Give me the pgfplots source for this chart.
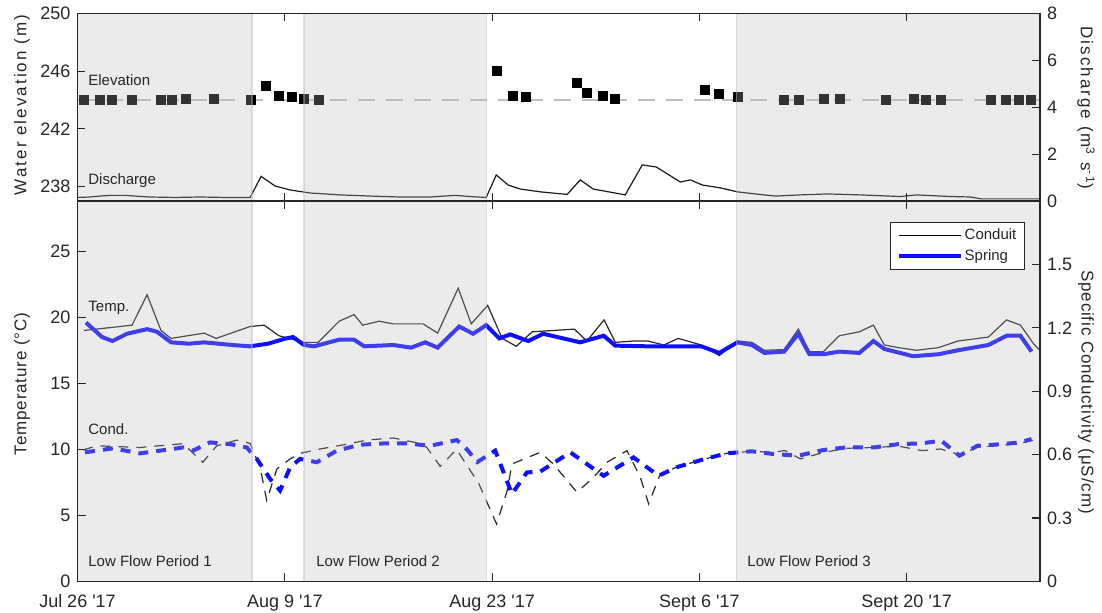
\documentclass[border=0pt]{standalone}
\usepackage{pgfplots}
\usepackage{pgfplotstable}
\pgfplotsset{compat=1.18}
\usepackage{fontspec}
\setmainfont{Liberation Sans}
\newfontfamily\spacedA[LetterSpace=12]{Liberation Sans}
\newfontfamily\spacedB[LetterSpace=5]{Liberation Sans}

\definecolor{axgray}{HTML}{262626}
\definecolor{shadec}{gray}{0.72}
\definecolor{refgray}{HTML}{BEBEBE}
\definecolor{springblue}{RGB}{15,15,255}

% page coordinates: 1 unit = 0.5pt, measured from the top-left corner
\newcommand{\px}[2]{({(#1)*0.5pt},{(613-(#2))*0.5pt})}

% x = days since Jul 26 2017
\pgfplotstableread{
d elev
0.4 244.0
1.5 244.0
2.3 244.0
3.7 244.0
5.6 244.0
6.4 244.0
7.3 244.1
9.2 244.1
11.7 244.0
12.7 245.0
13.6 244.3
14.5 244.2
15.3 244.1
16.3 244.0
28.3 246.0
29.4 244.3
30.3 244.2
33.7 245.2
34.4 244.5
35.5 244.3
36.3 244.1
42.4 244.7
43.3 244.4
44.6 244.2
47.7 244.0
48.7 244.0
50.4 244.1
51.5 244.1
54.6 244.0
56.5 244.1
57.3 244.0
58.3 244.0
61.7 244.0
62.7 244.0
63.6 244.0
64.4 244.0
}\elevtab

\pgfplotstableread{
d Q
0 0.15
0.84 0.17
1.52 0.21
2.2 0.24
3.21 0.24
3.89 0.21
4.9 0.17
6.59 0.15
8.28 0.17
9.97 0.15
11.66 0.15
12.4 1.05
13.34 0.64
14.36 0.47
15.71 0.34
17.74 0.26
19.76 0.21
21.79 0.17
23.82 0.17
25.51 0.24
26.52 0.19
27.6 0.15
28.28 1.11
29.09 0.68
29.9 0.51
31.25 0.39
33.07 0.28
33.95 0.90
34.83 0.51
36.99 0.26
38.14 1.54
39.09 1.45
40.71 0.81
41.39 0.90
42.2 0.68
43.41 0.56
44.56 0.39
45.78 0.30
47.13 0.21
48.82 0.26
50.64 0.30
52.87 0.26
55.57 0.19
56.66 0.26
58.95 0.19
60.3 0.17
61.05 0.09
65 0.09
}\dischtab

\pgfplotstableread{
d T
0.44 19.0
3.68 19.4
4.7 21.7
5.64 19.0
6.32 18.4
8.55 18.8
9.36 18.4
11.66 19.3
12.6 19.4
13.61 18.6
15.3 18.1
16.25 18.1
17.67 19.7
18.68 20.2
19.26 19.4
20.37 19.7
21.32 19.5
23.34 19.5
24.32 18.8
25.71 22.2
26.59 19.5
27.7 20.9
28.68 18.4
29.63 17.8
30.71 18.9
33.55 19.1
34.4 18.2
35.56 19.8
36.32 18.1
37.53 18.2
38.51 18.2
39.6 17.9
40.57 18.4
42.13 17.9
43.34 17.1
44.56 18.2
45.54 18.1
46.39 17.5
47.72 17.55
48.68 19.1
49.43 17.4
50.37 17.4
51.45 18.6
52.8 18.9
53.75 19.4
54.49 17.9
55.44 17.7
56.66 17.5
58.14 17.7
59.46 18.2
61.52 18.5
62.74 19.8
63.68 19.4
64.56 18.0
65.0 17.5
}\tempconduit

\pgfplotstableread{
d T
0.57 19.6
1.66 18.5
2.36 18.2
3.34 18.75
4.7 19.1
5.37 18.9
6.32 18.1
7.53 18.0
8.55 18.1
10.44 17.9
11.66 17.8
12.87 18.0
14.09 18.4
14.56 18.5
15.3 17.9
15.98 17.8
17.67 18.3
18.68 18.3
19.36 17.8
21.32 17.9
22.53 17.7
23.48 18.1
24.32 17.7
25.78 19.3
26.72 18.75
27.6 19.4
28.48 18.4
29.22 18.7
30.44 18.2
31.45 18.75
33.95 18.1
35.54 18.6
36.32 17.85
38.51 17.8
42.13 17.8
43.34 17.3
44.56 18.1
45.54 17.9
46.39 17.3
47.72 17.4
48.68 18.75
49.43 17.2
50.37 17.2
51.45 17.4
52.8 17.3
53.75 18.2
54.49 17.6
56.43 17.05
58.14 17.2
59.46 17.5
61.52 17.9
62.74 18.6
63.68 18.6
64.43 17.4
}\tempspring

\pgfplotstableread{
d C
0.37 0.622
1.3 0.642
4.22 0.634
7.13 0.652
8.46 0.564
9.41 0.642
10.76 0.669
11.66 0.653
12.33 0.54
12.78 0.383
13.46 0.532
14.36 0.58
15.03 0.606
16.39 0.627
17.94 0.646
19.54 0.669
21.32 0.679
23.14 0.653
23.59 0.634
24.49 0.545
25.6 0.625
27.1 0.463
28.3 0.272
29.02 0.43
29.34 0.556
31.25 0.611
32.13 0.556
33.73 0.422
34.85 0.493
35.76 0.564
37.11 0.619
38.01 0.493
38.57 0.367
39.36 0.509
40.44 0.54
42.13 0.575
43.82 0.606
45.54 0.616
46.99 0.61
47.74 0.62
48.82 0.58
50.37 0.61
51.86 0.63
53.78 0.634
55.47 0.64
57.04 0.619
58.28 0.627
59.56 0.60
60.78 0.635
62.47 0.645
63.68 0.655
65.0 0.675
}\condconduit

\pgfplotstableread{
d C
0.51 0.611
2.4 0.63
4.22 0.606
5.57 0.619
7.13 0.634
7.8 0.619
8.95 0.658
10.3 0.65
11.43 0.634
12.11 0.58
13.01 0.485
13.68 0.43
14.36 0.54
15.03 0.58
16.16 0.564
17.51 0.619
19.09 0.647
20.66 0.653
22.24 0.653
23.82 0.642
25.62 0.669
26.3 0.625
27.0 0.565
28.21 0.619
29.34 0.414
30.35 0.516
31.25 0.52
33.28 0.611
35.53 0.5
37.55 0.587
39.24 0.5
40.44 0.54
42.13 0.575
43.82 0.606
45.54 0.616
46.99 0.603
48.68 0.595
50.37 0.622
51.86 0.634
53.78 0.634
55.47 0.65
56.93 0.653
58.34 0.666
59.56 0.595
60.78 0.642
62.47 0.65
63.68 0.658
64.43 0.674
}\condspring

\pgfplotsset{
  panel/.style={scale only axis, width=481.25pt, xmin=0, xmax=65, anchor=south west},
  toppanel/.style={panel, height=93.75pt, at={(38.75pt,206pt)}},
  botpanel/.style={panel, height=190.25pt, at={(38.75pt,15.75pt)}},
  frame/.style={
    axis line style={axgray, line width=0.75pt},
    tick style={axgray, line width=0.6pt},
    tick align=inside, major tick length=4pt,
    tick label style={font=\fontsize{9}{10}\selectfont, text=axgray},
    /pgf/number format/assume math mode=true,
    xtick={0,14,28,42,56},
    minor tick num=0,
  },
}
\tikzset{
  lowflow/.style={fill=shadec, opacity=0.28},
  lowedge/.style={draw=shadec, opacity=0.45, line width=0.6pt},
}

\begin{document}
\begin{tikzpicture}
\path[use as bounding box] (0,0) rectangle (551pt,306.5pt);

% ---------- upper panel: water elevation and discharge ----------
\begin{axis}[toppanel, hide axis, ymin=237, ymax=250]
  \addplot[refgray, line width=1.4pt, dash pattern=on 8.5pt off 5.5pt] coordinates {(0,244) (65,244)};
  \addplot[only marks, mark=square*, mark size=2.25pt, black] table[x=d, y=elev] {\elevtab};
\end{axis}
\begin{axis}[toppanel, hide axis, ymin=0, ymax=8]
  \addplot[black!90, line width=0.6pt] table[x=d, y=Q] {\dischtab};
  \fill[lowflow] (axis cs:0,0) rectangle (axis cs:11.79,8);
  \fill[lowflow] (axis cs:15.3,0) rectangle (axis cs:27.6,8);
  \fill[lowflow] (axis cs:44.49,0) rectangle (axis cs:65,8);
  \draw[lowedge] (axis cs:11.79,0) -- (axis cs:11.79,8);
  \draw[lowedge] (axis cs:15.3,0) -- (axis cs:15.3,8);
  \draw[lowedge] (axis cs:27.6,0) -- (axis cs:27.6,8);
  \draw[lowedge] (axis cs:44.49,0) -- (axis cs:44.49,8);
\end{axis}
\begin{axis}[toppanel, frame, ymin=237, ymax=250, ytick={238,242,246,250},
    ytick pos=left, xticklabels={}]
\end{axis}
\begin{axis}[toppanel, frame, ymin=0, ymax=8, ytick={0,2,4,6,8},
    hide x axis, ytick pos=right, yticklabel pos=right]
\end{axis}

% ---------- lower panel: temperature and specific conductivity ----------
\begin{axis}[botpanel, hide axis, ymin=0, ymax=28.8]
  \addplot[black!85, line width=0.6pt] table[x=d, y=T] {\tempconduit};
  \addplot[springblue, line width=2pt] table[x=d, y=T] {\tempspring};
\end{axis}
\begin{axis}[botpanel, hide axis, ymin=0, ymax=1.8]
  \addplot[black!85, line width=0.6pt, dash pattern=on 5pt off 4pt] table[x=d, y=C] {\condconduit};
  \addplot[springblue, line width=2pt, dash pattern=on 5pt off 4pt] table[x=d, y=C] {\condspring};
  \fill[lowflow] (axis cs:0,0) rectangle (axis cs:11.79,1.8);
  \fill[lowflow] (axis cs:15.3,0) rectangle (axis cs:27.6,1.8);
  \fill[lowflow] (axis cs:44.49,0) rectangle (axis cs:65,1.8);
  \draw[lowedge] (axis cs:11.79,0) -- (axis cs:11.79,1.8);
  \draw[lowedge] (axis cs:15.3,0) -- (axis cs:15.3,1.8);
  \draw[lowedge] (axis cs:27.6,0) -- (axis cs:27.6,1.8);
  \draw[lowedge] (axis cs:44.49,0) -- (axis cs:44.49,1.8);
\end{axis}
\begin{axis}[botpanel, frame, ymin=0, ymax=28.8, ytick={0,5,10,15,20,25},
    ytick pos=left,
    xticklabels={Jul 26 \textquotesingle17, Aug 9 \textquotesingle17, Aug 23 \textquotesingle17, Sept 6 \textquotesingle17, Sept 20 \textquotesingle17},
    xticklabel style={yshift=-3pt},
    legend cell align=left,
    legend image code/.code={\draw[#1] (0pt,0pt) -- (31pt,0pt);},
    legend style={at={(rel axis cs:1,1)}, anchor=north east, xshift=-7.5pt, yshift=-10.5pt,
      draw=axgray, line width=0.6pt, fill=white, font=\fontsize{7.5}{9}\selectfont,
      text=axgray, inner xsep=3pt, inner ysep=2pt, row sep=1.5pt,
      nodes={inner sep=1pt}}]
  \addlegendimage{black, line width=0.6pt}
  \addlegendentry{Conduit}
  \addlegendimage{springblue, line width=2pt}
  \addlegendentry{Spring}
\end{axis}
\begin{axis}[botpanel, frame, ymin=0, ymax=1.8, ytick={0,0.3,0.6,0.9,1.2,1.5},
    hide x axis, ytick pos=right, yticklabel pos=right]
\end{axis}

% ---------- annotations ----------
\begin{scope}[every node/.style={anchor=west, inner sep=0pt, text=axgray, font=\fontsize{7.5}{9}\selectfont}]
  \node at \px{88}{80} {Elevation};
  \node at \px{88}{181} {Discharge};
  \node at \px{88}{308} {Temp.};
  \node at \px{88}{429} {Cond.};
  \node at \px{88}{561} {Low Flow Period 1};
  \node at \px{316}{561} {Low Flow Period 2};
  \node at \px{747}{561} {Low Flow Period 3};
\end{scope}

% ---------- axis titles ----------
\begin{scope}[every node/.style={inner sep=0pt, text=axgray}]
  \node[rotate=90, font=\spacedA\fontsize{8.5}{10}\selectfont] at \px{22}{105} {Water elevation (m)};
  \node[rotate=90, font=\spacedB\fontsize{8.5}{10}\selectfont] at \px{22}{384} {Temperature (°C)};
  \node[rotate=-90, font=\spacedA\fontsize{8.5}{10}\selectfont] at \px{1086}{108} {Discharge (m\textsuperscript{3} s\textsuperscript{-1})};
  \node[rotate=-90, font=\spacedB\fontsize{8.5}{10}\selectfont] at \px{1086}{392} {Specific Conductivity (μS/cm)};
\end{scope}
\end{tikzpicture}
\end{document}
